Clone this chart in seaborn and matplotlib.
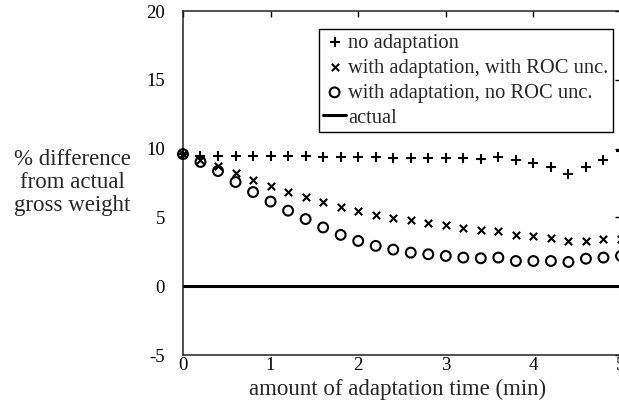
import matplotlib
matplotlib.use("Agg")
import matplotlib.pyplot as plt
import pandas as pd
import seaborn as sns

# ---- data ----
time_min = [0.0, 0.2, 0.4, 0.6, 0.8, 1.0, 1.2, 1.4, 1.6, 1.8, 2.0, 2.2, 2.4,
            2.6, 2.8, 3.0, 3.2, 3.4, 3.6, 3.8, 4.0, 4.2, 4.4, 4.6, 4.8, 5.0]
no_adaptation = [9.6, 9.45, 9.45, 9.45, 9.45, 9.45, 9.45, 9.45, 9.42, 9.42,
                 9.42, 9.4, 9.35, 9.35, 9.35, 9.3, 9.3, 9.28, 9.4, 9.15,
                 8.98, 8.67, 8.18, 8.67, 9.2, 9.85]
with_roc_unc = [9.6, 9.15, 8.74, 8.25, 7.69, 7.25, 6.88, 6.47, 6.15, 5.78,
                5.47, 5.18, 4.96, 4.81, 4.59, 4.44, 4.2, 4.1, 4.03, 3.71,
                3.62, 3.49, 3.29, 3.29, 3.42, 3.45]
no_roc_unc = [9.6, 9.03, 8.37, 7.57, 6.84, 6.15, 5.49, 4.88, 4.27, 3.73,
              3.29, 2.93, 2.66, 2.44, 2.32, 2.2, 2.08, 2.03, 2.08, 1.83,
              1.83, 1.83, 1.76, 2.0, 2.08, 2.2]
actual_value = 0.0
series_labels = ["no adaptation", "with adaptation, with ROC unc.",
                 "with adaptation, no ROC unc.", "actual"]
x_ticks = [0, 1, 2, 3, 4, 5]
y_ticks = [-5, 0, 5, 10, 15, 20]

df = pd.DataFrame({"time": time_min, "noad": no_adaptation,
                   "roc": with_roc_unc, "noroc": no_roc_unc})

sns.set_style("white")
plt.rcParams["font.family"] = ["Liberation Serif", "DejaVu Serif"]

fig = plt.figure(figsize=(6.19, 4.08), dpi=100)
ax = fig.add_axes([0.2956, 0.1299, 0.7076, 0.8431])

sns.scatterplot(data=df, x="time", y="noad", marker="+", s=48, color="black",
                linewidth=1.5, label=series_labels[0], ax=ax, clip_on=False, zorder=3)
sns.scatterplot(data=df, x="time", y="roc", marker="x", s=28, color="black",
                linewidth=1.5, label=series_labels[1], ax=ax, clip_on=False, zorder=3)
sns.scatterplot(data=df, x="time", y="noroc", marker="o", s=50, color="black",
                facecolor="none", edgecolor="black", linewidth=1.5,
                label=series_labels[2], ax=ax, clip_on=False, zorder=3)
ax.axhline(actual_value, color="black", linewidth=2.2, label=series_labels[3], zorder=2)

ax.set_xlim(x_ticks[0], x_ticks[-1])
ax.set_ylim(y_ticks[0], y_ticks[-1])
ax.set_xticks(x_ticks)
ax.set_yticks(y_ticks)
ax.set_xticklabels([str(t) for t in x_ticks])
ax.set_yticklabels([str(t) for t in y_ticks])
ax.tick_params(axis="both", direction="in", length=4, width=1, colors="black",
               labelsize=13.5, top=True, right=True)
ax.tick_params(axis="y", pad=13)
ax.tick_params(axis="x", pad=1.5)
for sp in ax.spines.values():
    sp.set_visible(True)
    sp.set_color("#222222")
    sp.set_linewidth(1.1)

ax.set_xlabel("amount of adaptation time (min)", fontsize=16.5)
ax.xaxis.set_label_coords(0.491, -0.068)
ax.set_ylabel("")
fig.text(0.117, 0.553, "% difference\nfrom actual\ngross weight", fontsize=16.5,
         ha="center", va="center", linespacing=1.13)

leg = ax.legend(loc="upper right", bbox_to_anchor=(0.990, 0.928),
                bbox_transform=fig.transFigure, borderaxespad=0,
                fontsize=14.8, frameon=True, fancybox=False, framealpha=1,
                edgecolor="black", handlelength=1.15, handletextpad=0.1,
                labelspacing=0.27, borderpad=0.2, scatterpoints=1)
leg.get_frame().set_linewidth(1.0)

fig.savefig("out.png", dpi=100)
